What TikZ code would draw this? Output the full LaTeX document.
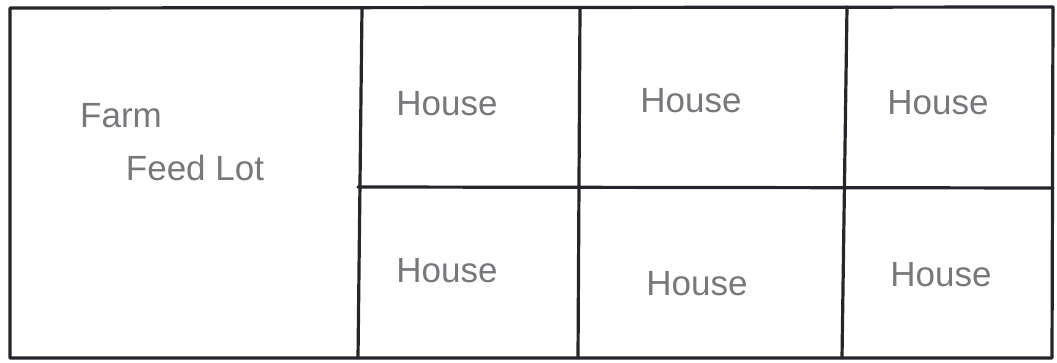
\documentclass[tikz,border=0pt]{standalone}
\usepackage{fontspec}
\setmainfont{Liberation Sans}
\usepackage{tikz}
\definecolor{pencil}{RGB}{40,36,44}
\definecolor{lead}{RGB}{120,120,124}
\tikzset{
  wall/.style ={draw=pencil, line width=3.2pt, line cap=round, line join=round},
  lbl/.style  ={text=lead, font=\fontsize{35}{38}\selectfont, inner sep=0pt},
}
\begin{document}
\begin{tikzpicture}[x=1pt, y=-1pt]
\useasboundingbox (0,0) rectangle (1057,363);
% lot outline and dividers
\draw[wall] (10,8) -- (1053,7) -- (1052,358) -- (10,358) -- cycle;
\draw[wall] (362,8) -- (358,358);
\draw[wall] (580,8) -- (578,358);
\draw[wall] (847,7) -- (842,358);
\draw[wall] (358,187) -- (1053,188);
% labels
\node[lbl, anchor=base] (farm) at (121,128) {Farm};
\node[lbl, anchor=base] (feed) at (195,181) {Feed Lot};
\node[lbl, anchor=base] (h1) at (447,116) {House};
\node[lbl, anchor=base] (h2) at (691,113) {House};
\node[lbl, anchor=base] (h3) at (938,115) {House};
\node[lbl, anchor=base] (h4) at (447,283) {House};
\node[lbl, anchor=base] (h5) at (697,295) {House};
\node[lbl, anchor=base] (h6) at (941,287) {House};
\end{tikzpicture}
\end{document}
